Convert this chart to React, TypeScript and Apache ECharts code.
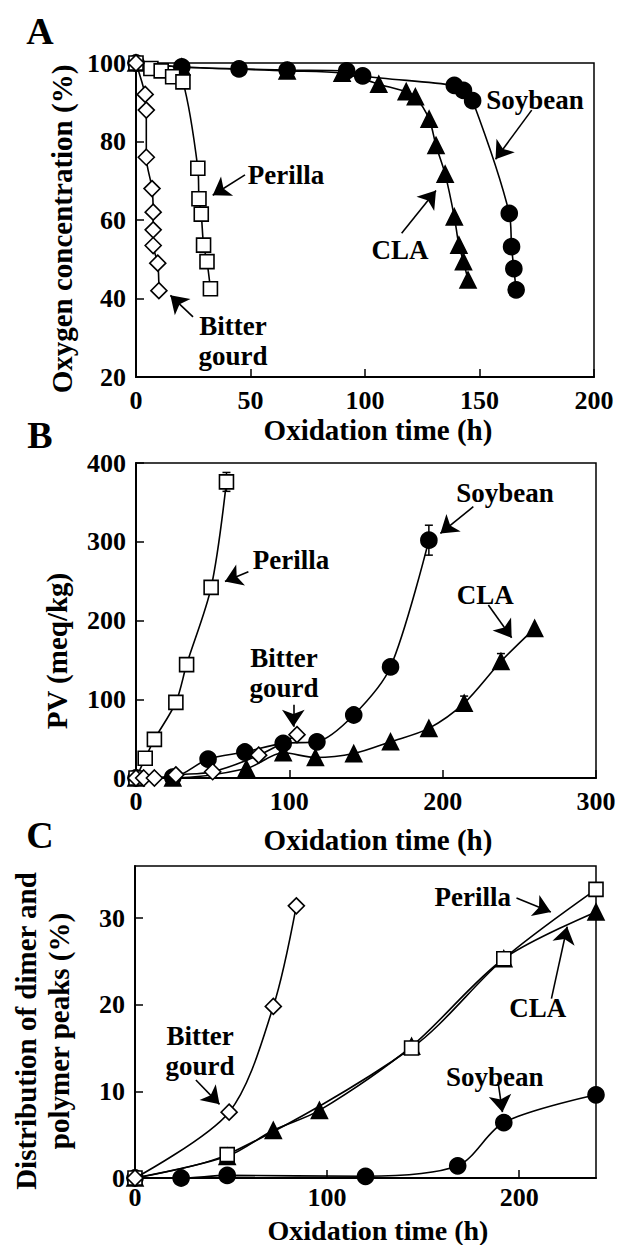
import React, { useEffect, useRef } from "react";
import * as echarts from "echarts";

const FONT = '"Liberation Serif", "Times New Roman", serif';

// ---------- Panel A: oxygen concentration (%) vs oxidation time (h)
const aBitterT = [0, 4, 4.5, 4.5, 7, 7.5, 7.5, 7.5, 9.5, 10];
const aBitterV = [100, 92, 88, 76, 68, 62, 57.5, 53.5, 49, 42];
const aPerillaT = [0, 6.5, 11, 16, 20.5, 27, 27.5, 28.5, 29.5, 31, 32.5];
const aPerillaV = [100, 98.6, 98, 96.5, 95.2, 73.2, 65.4, 61.5, 53.6, 49.4, 42.5];
const aSoyT = [0, 20, 45, 66, 92, 99, 139, 143, 147, 163, 164, 165, 166];
const aSoyV = [100, 99, 98.5, 98.2, 98, 96.7, 94.3, 93, 90.4, 61.7, 53.2, 47.6, 42.2];
const aClaT = [0, 20, 66, 90, 106, 118, 122, 128, 131, 135, 139, 141, 143, 145];
const aClaV = [100, 99, 98, 97.4, 94.6, 92.7, 91.4, 85.7, 79, 71.7, 60.8, 53.6, 49.4, 44.7];

// ---------- Panel B: PV (meq/kg)
const bPerillaT = [0, 6, 12, 26, 33, 49, 59];
const bPerillaV = [0, 25, 49, 96, 144, 242, 376];
const bSoyT = [0, 24, 47, 71, 96, 118, 142, 166, 191];
const bSoyV = [0, 1, 24, 33, 44, 46, 80, 141, 302];
const bClaT = [0, 24, 72, 96, 117, 142, 166, 191, 214, 238, 260];
const bClaV = [0, 0, 12, 32, 26, 31, 46, 63, 95, 148, 190];
const bBitterT = [0, 5, 12, 26, 50, 80, 105];
const bBitterV = [0, 0, 0, 4, 8, 29, 55];
// error bars: time, low, high
const bErrT = [59, 191, 214, 238];
const bErrLow = [364, 283, 87, 139];
const bErrHigh = [388, 321, 104, 158];

// ---------- Panel C: distribution of dimer and polymer peaks (%)
const cBitterT = [0, 49, 72, 84];
const cBitterV = [0, 7.6, 19.8, 31.4];
const cPerillaT = [0, 48, 144, 192, 240];
const cPerillaV = [0, 2.7, 15, 25.3, 33.3];
const cClaT = [0, 48, 72, 96, 144, 192, 240];
const cClaV = [0, 2.5, 5.5, 7.8, 15.2, 25.3, 30.7];
const cSoyT = [0, 24, 48, 120, 168, 192, 240];
const cSoyV = [0, 0, 0.3, 0.2, 1.4, 6.4, 9.6];

// annotations (data coordinates of each panel)
const annotations = [
  { grid: 0, text: "Perilla", at: [65.5, 71.5], tail: [47.6, 71.5], head: [33.5, 66.3] },
  { grid: 0, text: "Bitter\ngourd", at: [42.4, 29.2], tail: [24.9, 35.3], head: [15, 40.8] },
  { grid: 0, text: "Soybean", at: [174.2, 90.6], tail: [172.8, 88], head: [157, 75.5] },
  { grid: 0, text: "CLA", at: [115.3, 52.4], tail: [116, 56.6], head: [131, 67.5] },
  { grid: 1, text: "Perilla", at: [101.1, 277], tail: [73.3, 262], head: [58, 249.5] },
  { grid: 1, text: "Bitter\ngourd", at: [96.5, 133], tail: [102.6, 93], head: [102.6, 65] },
  { grid: 1, text: "Soybean", at: [240.7, 361.9], tail: [220, 344.5], head: [198.5, 310.5] },
  { grid: 1, text: "CLA", at: [227.7, 232.4], tail: [229.8, 219.7], head: [245, 178] },
  { grid: 2, text: "Bitter\ngourd", at: [33.9, 14.6], tail: [31.7, 11.3], head: [44, 8.5] },
  { grid: 2, text: "Perilla", at: [175.8, 32.4], tail: [198.6, 32.3], head: [216.5, 30.7] },
  { grid: 2, text: "CLA", at: [209.7, 19.6], tail: [216.8, 20.7], head: [225, 29] },
  { grid: 2, text: "Soybean", at: [187.3, 11.6], tail: [189, 11.1], head: [191.3, 7.6] },
];

const zip = (t: number[], v: number[]) => t.map((x, i) => [x, v[i]]);

const styles: Record<string, any> = {
  Soybean: { symbol: "circle", size: 16, fill: "#000", z: 3 },
  CLA: { symbol: "triangle", size: 16, fill: "#000", z: 2 },
  Perilla: { symbol: "rect", size: 14, fill: "#fff", z: 4 },
  "Bitter gourd": { symbol: "diamond", size: 16, fill: "#fff", z: 5 },
};

function mkSeries(name: string, grid: number, t: number[], v: number[]) {
  const s = styles[name];
  const ann = annotations.filter(
    (a) => a.grid === grid && a.text.replace("\n", " ") === name
  );
  return {
    type: "line",
    name,
    xAxisIndex: grid,
    yAxisIndex: grid,
    data: zip(t, v),
    smooth: 0.3,
    symbol: s.symbol,
    symbolSize: s.size,
    z: s.z,
    lineStyle: { color: "#000", width: 1.6 },
    itemStyle: { color: s.fill, borderColor: "#000", borderWidth: 1.6, opacity: 1 },
    markLine: {
      silent: true,
      animation: false,
      symbol: ["none", "arrow"],
      symbolSize: 17,
      lineStyle: { color: "#000", width: 1.6, type: "solid" },
      itemStyle: { color: "#000" },
      label: { show: false },
      data: ann.map((a) => [{ coord: a.tail }, { coord: a.head }]),
    },
  };
}

function axis(gridIndex: number, min: number, max: number, interval: number, showMax = true, margin = 10) {
  return {
    type: "value",
    gridIndex,
    min,
    max,
    interval,
    axisLine: { show: true, onZero: false, lineStyle: { color: "#000", width: 2 } },
    axisTick: { show: true, inside: true, length: 8, lineStyle: { color: "#000", width: 1.5 } },
    axisLabel: {
      color: "#000",
      fontFamily: FONT,
      fontWeight: "bold",
      fontSize: 26,
      margin,
      showMaxLabel: showMax,
    },
    splitLine: { show: false },
  };
}

export default function App() {
  const ref = useRef<HTMLDivElement>(null);
  useEffect(() => {
    const chart = echarts.init(ref.current!, null, { renderer: "svg" });
    const grids = [
      { left: 136, top: 63, width: 458, height: 314 },
      { left: 136, top: 463, width: 460, height: 315 },
      { left: 135, top: 866, width: 461, height: 312 },
    ].map((g) => ({ ...g, show: true, borderColor: "#000", borderWidth: 1.5, containLabel: false }));

    const errData = bErrT.map((t, i) => [t, bErrLow[i], bErrHigh[i]]);

    chart.setOption({
      animation: false,
      backgroundColor: "#fff",
      grid: grids,
      xAxis: [axis(0, 0, 200, 50), axis(1, 0, 300, 100), axis(2, 0, 240, 100, false, 6)],
      yAxis: [axis(0, 20, 100, 20), axis(1, 0, 400, 100), axis(2, 0, 36, 10, false)],
      series: [
        mkSeries("CLA", 0, aClaT, aClaV),
        mkSeries("Soybean", 0, aSoyT, aSoyV),
        mkSeries("Perilla", 0, aPerillaT, aPerillaV),
        mkSeries("Bitter gourd", 0, aBitterT, aBitterV),
        {
          type: "custom",
          xAxisIndex: 1,
          yAxisIndex: 1,
          z: 1,
          data: errData,
          renderItem: (params: any, api: any) => {
            const lo = api.coord([api.value(0), api.value(1)]);
            const hi = api.coord([api.value(0), api.value(2)]);
            const st = { stroke: "#000", lineWidth: 1.5 };
            return {
              type: "group",
              children: [
                { type: "line", shape: { x1: lo[0], y1: lo[1], x2: hi[0], y2: hi[1] }, style: st },
                { type: "line", shape: { x1: lo[0] - 4, y1: lo[1], x2: lo[0] + 4, y2: lo[1] }, style: st },
                { type: "line", shape: { x1: hi[0] - 4, y1: hi[1], x2: hi[0] + 4, y2: hi[1] }, style: st },
              ],
            };
          },
        },
        mkSeries("CLA", 1, bClaT, bClaV),
        mkSeries("Soybean", 1, bSoyT, bSoyV),
        mkSeries("Perilla", 1, bPerillaT, bPerillaV),
        mkSeries("Bitter gourd", 1, bBitterT, bBitterV),
        mkSeries("CLA", 2, cClaT, cClaV),
        mkSeries("Soybean", 2, cSoyT, cSoyV),
        mkSeries("Perilla", 2, cPerillaT, cPerillaV),
        mkSeries("Bitter gourd", 2, cBitterT, cBitterV),
      ],
    });

    const tf = (size: number) => `bold ${size}px ${FONT}`;
    const txt = (x: number, y: number, text: string, size: number, rot = 0, lh = 28) => ({
      type: "text",
      x,
      y,
      rotation: rot,
      style: {
        text,
        font: tf(size),
        fill: "#000",
        textAlign: "center",
        textVerticalAlign: "middle",
        lineHeight: lh,
      },
      z: 100,
    });

    const graphics: any[] = [
      txt(40, 31, "A", 38, 0, 40),
      txt(40, 435, "B", 38, 0, 40),
      txt(40, 835, "C", 38, 0, 40),
      txt(378, 430, "Oxidation time (h)", 29, 0, 30),
      txt(378, 840, "Oxidation time (h)", 29, 0, 30),
      txt(378, 1230, "Oxidation time (h)", 28, 0, 28),
      txt(62, 229, "Oxygen concentration (%)", 29, Math.PI / 2, 30),
      txt(57, 651, "PV (meq/kg)", 29, Math.PI / 2, 30),
      txt(42, 1031, "Distribution of dimer and\npolymer peaks (%)", 29, Math.PI / 2, 33),
    ];
    annotations.forEach((a) => {
      const p = chart.convertToPixel({ gridIndex: a.grid } as any, a.at) as number[];
      graphics.push(txt(p[0], p[1], a.text, 27, 0, 30));
    });
    chart.setOption({ graphic: graphics });

    return () => chart.dispose();
  }, []);

  return (
    <div
      ref={ref}
      style={{ position: "fixed", left: 0, top: 0, width: 624, height: 1245, background: "#fff" }}
    />
  );
}
